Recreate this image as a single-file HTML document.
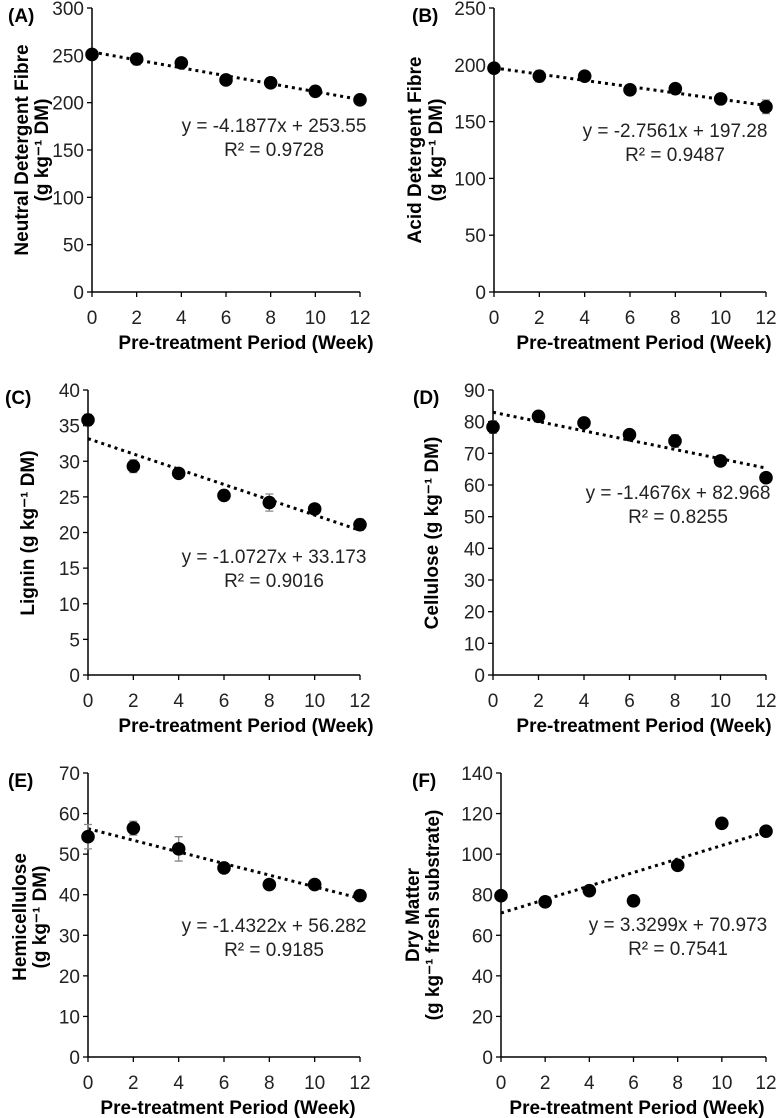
<!DOCTYPE html>
<html><head><meta charset="utf-8"><style>
html,body{margin:0;padding:0;background:#fff;}
svg{display:block;font-family:"Liberation Sans",Arial,sans-serif;}
</style></head><body>
<svg id="fig" width="776" height="1118" viewBox="0 0 776 1118"></svg>
<script>
const weeks = [0,2,4,6,8,10,12];
const xTicks = [0,2,4,6,8,10,12];
const ndfValues = [251,246,242,224,221,212,203];
const ndfErrors = [3,6,2,3,2,2,4];
const adfValues = [197,190,190,178,179,170,163];
const adfErrors = [2,5,2,2,2,2,6];
const ligninValues = [35.8,29.3,28.3,25.2,24.2,23.3,21.1];
const ligninErrors = [0.8,0.9,0.4,0.4,1.2,0.7,0.8];
const celluloseValues = [78.3,81.7,79.6,75.9,73.9,67.6,62.3];
const celluloseErrors = [2,1,1.5,1,2,1,0.5];
const hemiValues = [54.3,56.4,51.3,46.6,42.5,42.5,39.8];
const hemiErrors = [3,1.7,3,1.2,1.2,1,0.5];
const dmValues = [79.5,76.5,82,77,94.5,115.2,111.3];
const dmErrors = [1,1,1,1,1,1,1];
const ndfTicks = [0,50,100,150,200,250,300];
const adfTicks = [0,50,100,150,200,250];
const ligninTicks = [0,5,10,15,20,25,30,35,40];
const celluloseTicks = [0,10,20,30,40,50,60,70,80,90];
const hemiTicks = [0,10,20,30,40,50,60,70];
const dmTicks = [0,20,40,60,80,100,120,140];
const slopes = [-4.1877,-2.7561,-1.0727,-1.4676,-1.4322,3.3299];
const intercepts = [253.55,197.28,33.173,82.968,56.282,70.973];
const r2s = ["0.9728","0.9487","0.9016","0.8255","0.9185","0.7541"];

const NS = "http://www.w3.org/2000/svg";
const svg = document.getElementById('fig');
function mk(tag, attrs, parent){
  const e = document.createElementNS(NS, tag);
  for (const k in attrs) e.setAttribute(k, attrs[k]);
  (parent||svg).appendChild(e);
  return e;
}
const panels = [
 {id:'a',label:'(A)',lx:8,ly:22,x0:92,x1:360,yt:8,yb:292,vals:ndfValues,errs:ndfErrors,ticks:ndfTicks,
  yl:['Neutral Detergent Fibre','(g kg⁻¹ DM)'],tx:[22,42],tyc:150,eqx:274,eqy:132,xtc:246},
 {id:'b',label:'(B)',lx:412,ly:22,x0:494,x1:766,yt:8,yb:292,vals:adfValues,errs:adfErrors,ticks:adfTicks,
  yl:['Acid Detergent Fibre','(g kg⁻¹ DM)'],tx:[415,436],tyc:150,eqx:675,eqy:137,xtc:644},
 {id:'c',label:'(C)',lx:5,ly:404,x0:88,x1:360,yt:390,yb:675,vals:ligninValues,errs:ligninErrors,ticks:ligninTicks,
  yl:['Lignin (g kg⁻¹ DM)'],tx:[28],tyc:533,eqx:274,eqy:563,xtc:246},
 {id:'d',label:'(D)',lx:413,ly:404,x0:493,x1:766,yt:390,yb:675,vals:celluloseValues,errs:celluloseErrors,ticks:celluloseTicks,
  yl:['Cellulose (g kg⁻¹ DM)'],tx:[432],tyc:533,eqx:678,eqy:499,xtc:644},
 {id:'e',label:'(E)',lx:8,ly:787,x0:88,x1:360,yt:773,yb:1057,vals:hemiValues,errs:hemiErrors,ticks:hemiTicks,
  yl:['Hemicellulose','(g kg⁻¹ DM)'],tx:[20,40],tyc:917,eqx:274,eqy:932,xtc:228},
 {id:'f',label:'(F)',lx:412,ly:787,x0:501,x1:766,yt:773,yb:1057,vals:dmValues,errs:dmErrors,ticks:dmTicks,
  yl:['Dry Matter','(g kg⁻¹ fresh substrate)'],tx:[413,433],tyc:915,eqx:678,eqy:931,xtc:637}
];
panels.forEach((p,i)=>{
  const g = mk('g',{});
  
  
  const ymax = p.ticks[p.ticks.length-1];
  const X = v => p.x0 + (v/12)*(p.x1-p.x0);
  const Y = v => p.yb - (v/ymax)*(p.yb-p.yt);
  const ya = mk('line',{x1:p.x0,y1:p.yt,x2:p.x0,y2:p.yb,stroke:'#000','stroke-width':1.5},g);
   
  const xa = mk('line',{x1:p.x0,y1:p.yb,x2:p.x1,y2:p.yb,stroke:'#000','stroke-width':1.5},g);
   
  p.ticks.forEach(t=>{
    mk('line',{x1:p.x0-5,y1:Y(t),x2:p.x0,y2:Y(t),stroke:'#000','stroke-width':1.3},g);
    const tl = mk('text',{x:p.x0-8,y:Y(t)+7,'text-anchor':'end','font-size':19,fill:'#222'},g);
    tl.textContent = t;
     
  });
  xTicks.forEach(t=>{
    mk('line',{x1:X(t),y1:p.yb,x2:X(t),y2:p.yb+5,stroke:'#000','stroke-width':1.3},g);
    const tl = mk('text',{x:X(t),y:p.yb+32,'text-anchor':'middle','font-size':19,fill:'#222'},g);
    tl.textContent = t;
     
  });
  const tr = mk('line',{x1:X(0),y1:Y(intercepts[i]),x2:X(12),y2:Y(intercepts[i]+12*slopes[i]),stroke:'#000','stroke-width':3,'stroke-dasharray':'3 4'},g);
   
  weeks.forEach((w,k)=>{
    const v=p.vals[k], e=p.errs[k];
    const eb = mk('path',{d:`M${X(w)-4},${Y(v+e)}H${X(w)+4}M${X(w)},${Y(v+e)}V${Y(v-e)}M${X(w)-4},${Y(v-e)}H${X(w)+4}`,stroke:'#888','stroke-width':1.3,fill:'none'},g);
     
    const c = mk('circle',{cx:X(w),cy:Y(v),r:6.8,fill:'#000'},g);
     
  });
  const s = slopes[i], sign = s<0 ? '-' : '';
  const eq = mk('text',{x:p.eqx,y:p.eqy,'text-anchor':'middle','font-size':19,fill:'#222'},g);
  eq.textContent = 'y = '+sign+Math.abs(s)+'x + '+intercepts[i];
   
  const r2 = mk('text',{x:p.eqx,y:p.eqy+24,'text-anchor':'middle','font-size':19,fill:'#222'},g);
  r2.textContent = 'R² = '+r2s[i];
   
  const pl = mk('text',{x:p.lx,y:p.ly,'font-size':19,'font-weight':'bold',fill:'#000'},g);
  pl.textContent = p.label;
   
  p.yl.forEach((line,j)=>{
    const t = mk('text',{x:0,y:0,transform:`translate(${p.tx[j]+6},${p.tyc}) rotate(-90)`,'text-anchor':'middle','font-size':19,'font-weight':'bold',fill:'#000'},g);
    t.textContent = line;
     
  });
  const xt = mk('text',{x:p.xtc,y:p.yb+57,'text-anchor':'middle','font-size':19,'font-weight':'bold',fill:'#000'},g);
  xt.textContent = 'Pre-treatment Period (Week)';
   
});
</script>
</body></html>
